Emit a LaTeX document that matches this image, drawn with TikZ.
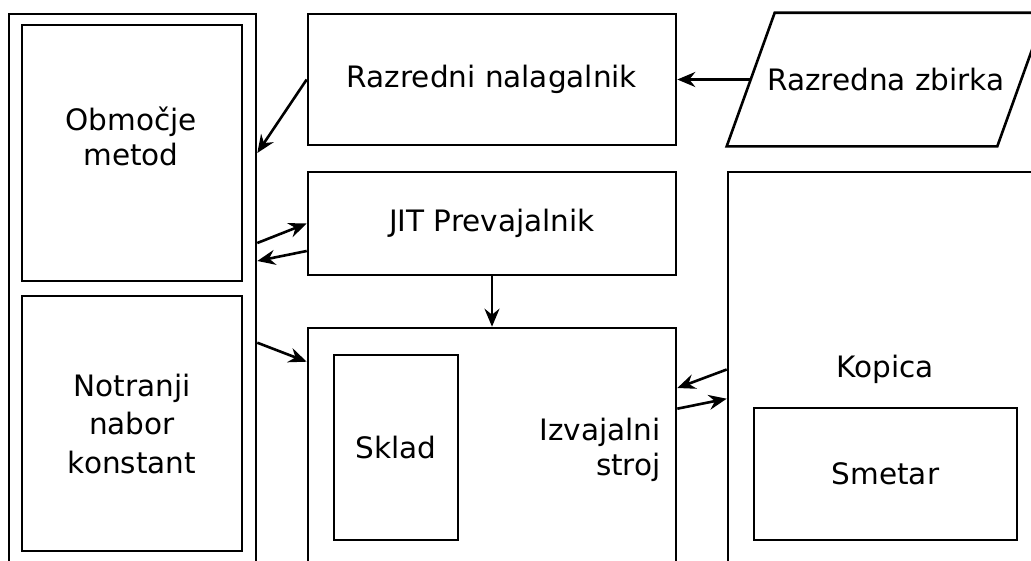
\documentclass[tikz,border=0pt]{standalone}
\usepackage{fontspec}
\setmainfont{DejaVu Sans}
\usetikzlibrary{arrows.meta,calc}

\tikzset{every picture/.style={line width=2.6pt}}
\tikzset{
  box/.style={draw, inner sep=0pt, font=\fontsize{29.5}{35}\selectfont},
  lbl/.style={inner sep=0pt, font=\fontsize{29.5}{35}\selectfont},
  arr/.style={-{Stealth[length=18pt,width=15pt,inset=6pt]}},
}

\begin{document}
\begin{tikzpicture}[x=1pt,y=1pt,yscale=-1]
\useasboundingbox (0,0) rectangle (1031,560);
\clip (0,0) rectangle (1031,560);

% left column
\node [box, minimum width=247, minimum height=606] (outer) at (132.5,317) {};
\node [box, minimum width=220, minimum height=256] (obmocje) at (132,153) {};
\node [box, minimum width=220, minimum height=255, align=center, font=\fontsize{29.5}{38.5}\selectfont] (notranji) at (132,423.5) {Notranji\\nabor\\konstant};
\node [lbl, align=center] (obmocjetxt) at (131,136) {Območje\\metod};

% middle column
\node [box, minimum width=368, minimum height=131] (nalagalnik) at (492,79.5) {Razredni nalagalnik};
\node [box, minimum width=368, minimum height=103] (jit) at (492,223.5) {JIT Prevajalnik};
\node [box, minimum width=368, minimum height=292] (izvajalni) at (492,474) {};
\node [box, minimum width=124, minimum height=185] (sklad) at (396,447.5) {Sklad};
\node [lbl, align=right, anchor=east] (izvajalnitxt) at (662,449.5) {Izvajalni\\stroj};

% right column
\node [lbl, minimum width=268, minimum height=131] (zbirka) at (886,79.5) {Razredna zbirka};
%parallelogram round the class collection
\draw ($(zbirka.south west)+(-24,0)$) -- ($(zbirka.north west)+(24,0)$) -- ($(zbirka.north east)+(24,0)$) -- ($(zbirka.south east)+(-24,0)$) -- cycle;
\node [box, minimum width=352, minimum height=448] (kopica) at (904,396) {};
\node [lbl] (kopicatxt) at (885,369.5) {Kopica};
\node [box, minimum width=263, minimum height=132] (smetar) at (885.5,474) {Smetar};

% connectors
\draw [arr] (zbirka.west) -- (nalagalnik.east);
\draw [arr] (nalagalnik.west) -- (outer.east |- obmocje.center);
\draw [arr] ($(outer.east |- jit.west)+(0,19.5)$) -- (jit.west);
\draw [arr] ($(jit.west)+(0,27.5)$) -- ($(outer.east |- jit.west)+(0,37.5)$);
\draw [arr] ($(outer.east |- sklad.north)+(0,-11)$) -- ($(izvajalni.north west)+(0,35)$);
\draw [arr] (jit.south) -- (izvajalni.north);
\draw [arr] (kopica.west |- kopicatxt.center) -- ($(izvajalni.east |- kopicatxt.center)+(0,18.5)$);
\draw [arr] ($(izvajalni.east |- smetar.north)+(0,2)$) -- ($(kopica.west |- smetar.north)+(0,-8)$);

\end{tikzpicture}
\end{document}
